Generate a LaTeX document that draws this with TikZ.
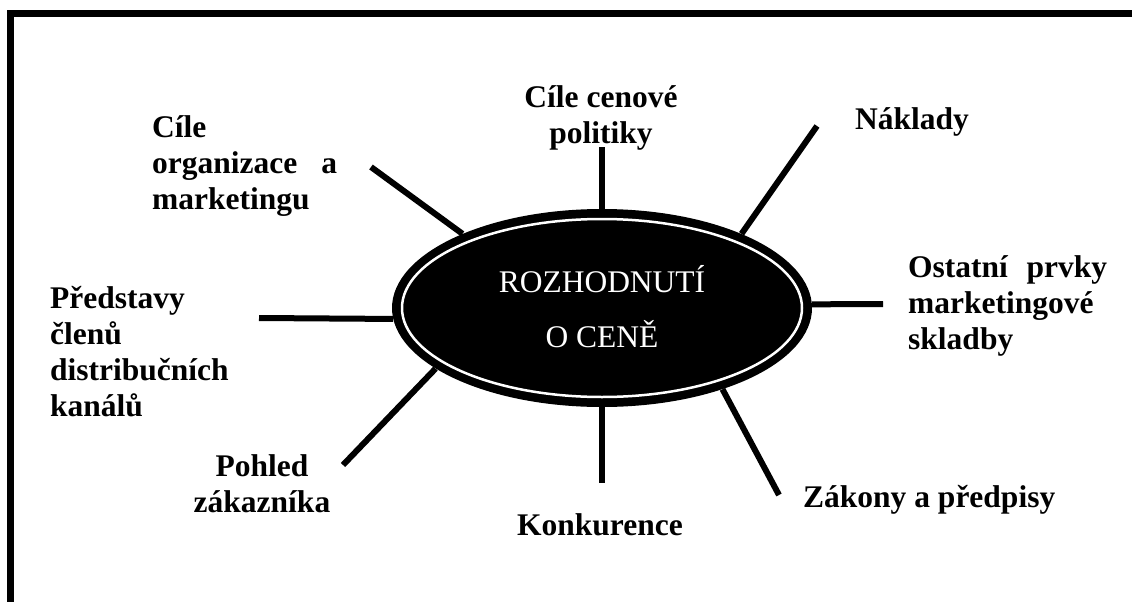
\documentclass[tikz,border=0pt]{standalone}
\usepackage{fontspec}
\setmainfont{Liberation Serif}
\usetikzlibrary{shapes.geometric}
\begin{document}
\begin{tikzpicture}[x=1pt,y=-1pt,label node/.style={font=\fontsize{31.5}{36}\selectfont\bfseries,inner sep=0pt},main node/.style={ellipse,fill=black,minimum width=420pt,minimum height=198pt,inner sep=0pt}]
\useasboundingbox (0,0) rectangle (1132,602);
\draw[line width=6.5pt] (10.5,602) -- (10.5,13.5) -- (1132,13.5);%frame
\node[main node] (dec) at (602,308) {};
\draw[white,line width=2.5pt] (dec.center) ellipse [x radius=200,y radius=89];
\node[font=\fontsize{31.5}{55}\selectfont,text=white,align=center,inner sep=0pt,anchor=base] (dectext) at (602,347) {ROZHODNUTÍ\\O CENĚ};
\begin{scope}[every node/.style={label node}]
\node[align=center,anchor=base] (tcena) at (601,143) {Cíle cenové\\politiky};%1
\node[anchor=base west] (tnakl) at (855,129) {Náklady};%2
\node[text width=199pt,align=left,anchor=base west] (tostat) at (908,277) {Ostatní\hfill prvky\\marketingové\\skladby};%3
\node[anchor=base west] (tzak) at (803,507) {Zákony a předpisy};%4
\node[anchor=base] (tkonk) at (600,535) {Konkurence};%5
\node[align=center,anchor=base] (tpohl) at (262,512) {Pohled\\zákazníka};%6
\node[align=left,anchor=base west] (tpreds) at (50,416) {Představy\\členů\\distribučních\\kanálů};%7
\node[text width=185pt,align=left,anchor=base west] (tcile) at (152,137) {Cíle\\organizace\hfill a\\marketingu};%8
\end{scope}
\coordinate (e1) at (602,147);
\coordinate (e2) at (817,126);
\coordinate (e3) at (883,304);
\coordinate (e4) at (779,495);
\coordinate (e5) at (602,483);
\coordinate (e6) at (343,465);
\coordinate (e7) at (259,318);
\coordinate (e8) at (371,167);
\begin{scope}[every edge/.style={draw=black,line width=6pt}]
\draw (dec.90) edge (e1);
\draw (dec.28) edge (e2);
\draw (dec.1) edge (e3);
\draw (dec.326) edge (e4);
\draw (dec.270) edge (e5);
\draw (dec.200) edge (e6);
\draw (dec.183) edge (e7);
\draw (dec.152) edge (e8);
\end{scope}
\end{tikzpicture}
\end{document}
